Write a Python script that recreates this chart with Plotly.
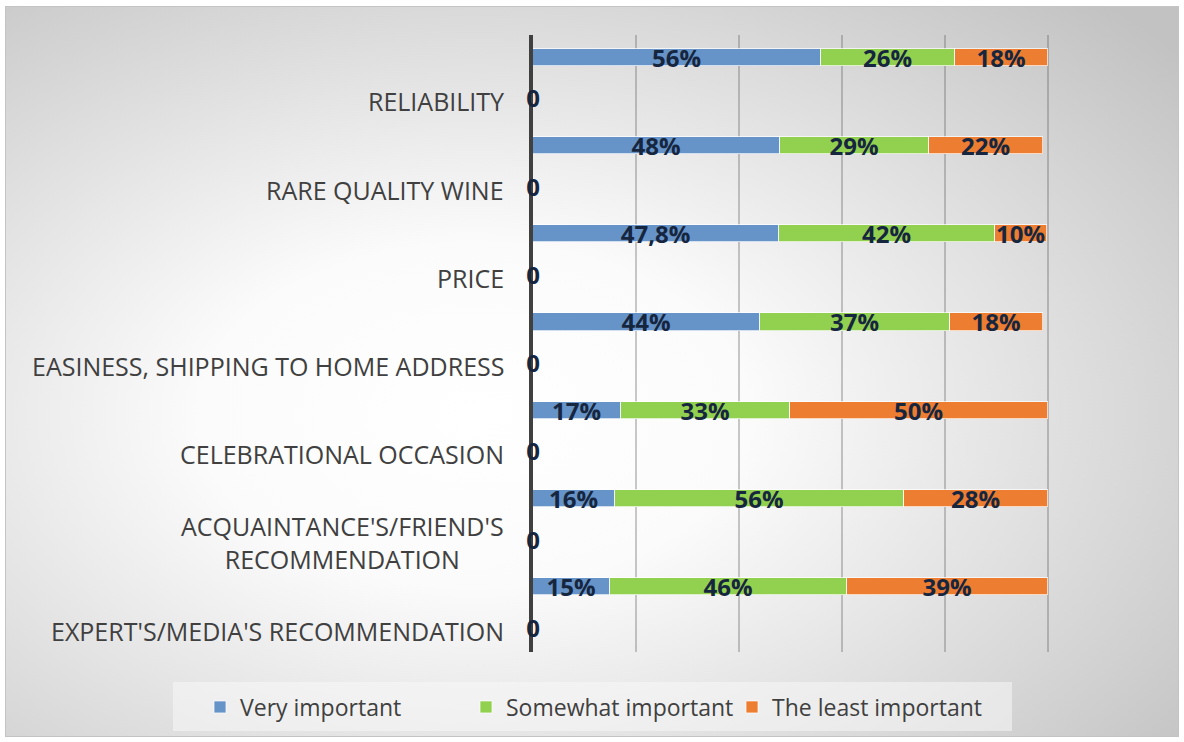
import base64
import plotly.graph_objects as go

categories = [
    "RELIABILITY",
    "RARE QUALITY WINE",
    "PRICE",
    "EASINESS, SHIPPING TO HOME ADDRESS",
    "CELEBRATIONAL OCCASION",
    "ACQUAINTANCE'S/FRIEND'S<br>RECOMMENDATION",
    "EXPERT'S/MEDIA'S RECOMMENDATION",
]
very_important = [0.56, 0.48, 0.478, 0.44, 0.17, 0.16, 0.15]
somewhat_important = [0.26, 0.29, 0.42, 0.37, 0.33, 0.56, 0.46]
least_important = [0.18, 0.22, 0.10, 0.18, 0.50, 0.28, 0.39]
very_labels = ["56%", "48%", "47,8%", "44%", "17%", "16%", "15%"]
somewhat_labels = ["26%", "29%", "42%", "37%", "33%", "56%", "46%"]
least_labels = ["18%", "22%", "10%", "18%", "50%", "28%", "39%"]
empty_series = [0, 0, 0, 0, 0, 0, 0]
empty_labels = ["0"] * 7

W, H = 1184, 742
L, R, T, B = 533, 33, 35, 90
pw, ph = W - L - R, H - T - B

pos = list(range(len(categories)))
bar_pos = [p - 0.5 for p in pos]

LABEL_FONT_BOLD = dict(family="Open Sans", size=24, color="#16263f", weight="bold")

fig = go.Figure()
series = [
    ("Very important", very_important, very_labels, "#6794c8"),
    ("Somewhat important", somewhat_important, somewhat_labels, "#92d050"),
    ("The least important", least_important, least_labels, "#ed7d31"),
]
for name, vals, labs, col in series:
    fig.add_trace(go.Bar(
        name=name, x=vals, y=bar_pos, orientation="h",
        marker=dict(color=col, line=dict(color="rgba(255,255,255,0.7)", width=1)),
        width=0.195,
        text=labs, textposition="inside", insidetextanchor="middle",
        textangle=0, constraintext="none",
        textfont=LABEL_FONT_BOLD,
        hoverinfo="skip",
    ))

fig.add_trace(go.Scatter(
    x=empty_series, y=pos, mode="text", text=empty_labels,
    textposition="middle center", textfont=LABEL_FONT_BOLD,
    showlegend=False, cliponaxis=False, hoverinfo="skip",
))

for p, c in zip(pos, categories):
    fig.add_annotation(
        x=0, xref="paper", y=p, yref="y", text=c, showarrow=False,
        xanchor="right", yanchor="middle", xshift=-27, align="center",
        font=dict(family="Open Sans", size=25, color="#404040"),
    )

svg = """<svg xmlns='http://www.w3.org/2000/svg' width='1174' height='731' viewBox='0 0 1174 731'>
<defs><radialGradient id='g' cx='0.40' cy='0.56' r='0.78'>
<stop offset='0' stop-color='#ffffff'/>
<stop offset='0.30' stop-color='#fbfbfb'/>
<stop offset='1' stop-color='#c2c2c2'/>
</radialGradient></defs>
<rect x='0.5' y='0.5' width='1173' height='730' fill='url(#g)' stroke='#c4c4c4' stroke-width='1'/>
</svg>"""
src = "data:image/svg+xml;base64," + base64.b64encode(svg.encode()).decode()
fig.add_layout_image(
    source=src, xref="paper", yref="paper",
    x=(5 - L) / pw, y=(H - B - 6) / ph,
    sizex=1174 / pw, sizey=731 / ph,
    xanchor="left", yanchor="top", sizing="stretch", layer="below",
)

# legend box
fig.add_shape(
    type="rect", xref="paper", yref="paper", layer="below",
    x0=(173 - L) / pw, x1=(1012 - L) / pw,
    y0=(H - B - 731) / ph, y1=(H - B - 682) / ph,
    fillcolor="rgba(248,248,248,0.55)", line=dict(width=0),
)

fig.update_layout(
    width=W, height=H,
    margin=dict(l=L, r=R, t=T, b=B),
    paper_bgcolor="white", plot_bgcolor="rgba(0,0,0,0)",
    barmode="stack", bargap=0,
    showlegend=True,
    legend=dict(
        orientation="h", xref="paper", yref="paper",
        x=(200 - L) / pw, xanchor="left",
        y=(H - B - 707) / ph, yanchor="middle",
        bgcolor="rgba(0,0,0,0)", traceorder="normal",
        entrywidthmode="pixels", entrywidth=221,
        font=dict(family="Open Sans", size=23, color="#404040"),
    ),
    xaxis=dict(
        range=[0, 1.2005], dtick=0.2, showgrid=True,
        gridcolor="rgba(90,90,90,0.33)", gridwidth=1.5,
        showticklabels=False, zeroline=False, layer="below traces",
    ),
    yaxis=dict(
        range=[6.238, -0.753], showgrid=False, showticklabels=False,
        zeroline=False, showline=True, linecolor="#404040", linewidth=3.5,
        layer="below traces",
    ),
)

fig.write_html(
    "out.html",
    config={"displayModeBar": False},
    post_script="document.body.style.margin='0';document.body.style.overflow='hidden';",
)
